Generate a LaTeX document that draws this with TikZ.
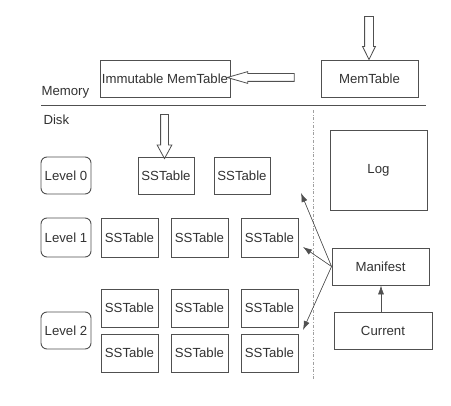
\documentclass[tikz,border=0pt]{standalone}
\usepackage{fontspec}
\setmainfont{Liberation Sans}
\usepackage{tikz}
\usetikzlibrary{
  positioning,
  arrows.meta,
  shapes.arrows
}
\definecolor{BoxGray}{RGB}{80,80,80}
\definecolor{TextGray}{RGB}{50,50,50}
\definecolor{SepGray}{RGB}{160,160,160}

\begin{document}
\begin{tikzpicture}[
  x=1pt,y=-1pt,
  font=\fontsize{13.2}{15}\selectfont,text=TextGray,
  tbox/.style={draw=BoxGray,line width=0.9pt,inner sep=0pt,
    minimum height=37pt,align=center},
  sst/.style={tbox,minimum width=57pt,minimum height=38pt},
  lvl/.style={tbox,rounded corners=6pt,minimum width=50pt},
  hollow/.style={single arrow,draw=BoxGray,line width=0.8pt,fill=white,
    inner sep=0pt,anchor=center},
  arr/.style={-{Latex[length=9pt,width=6pt]},line width=0.6pt,draw=BoxGray,fill=black},
]
\useasboundingbox (0,0) rectangle (451,406);

% —— memory ——
\node[tbox,minimum width=97pt] (mem) at (369.5,78.5) {MemTable};
\node[tbox,minimum width=130pt] (imm) at (165,78.5) {Immutable MemTable};
\node[anchor=west] (memory) at (38,92) {Memory};
\node[hollow,rotate=-90,minimum height=43pt,minimum width=12pt,
  single arrow head extend=2pt,single arrow tip angle=53,inner ysep=4pt]
  (inarr) at (369,33.5) {};
\node[hollow,rotate=180,minimum height=67pt,minimum width=11pt,
  single arrow head extend=2pt,single arrow tip angle=32,inner ysep=3.5pt]
  (freeze) at (267.5,77.5) {};

% —— memory / disk ——
\coordinate (sepL) at (41,105);
\coordinate (sepR) at (426,105);
\draw[BoxGray,line width=0.8pt] (sepL)--(sepR);
\node[anchor=west] (disk) at (40,120) {Disk};
\coordinate (colT) at (313,110);
\coordinate (colB) at (313,379);
\draw[SepGray,dash dot,line width=0.7pt] (colT)--(colB);
\node[hollow,rotate=-90,minimum height=44pt,minimum width=14pt,
  single arrow head extend=3.5pt,single arrow tip angle=57,inner ysep=3.5pt]
  (dump) at (164.5,133) {};

% —— levels ——
\node[lvl] (L0) at (66,175.5) {Level 0};
\node[lvl,minimum height=39pt] (L1) at (66,237.5) {Level 1};
\node[lvl] (L2) at (66,330.5) {Level 2};
\node[sst,minimum width=56pt,minimum height=37pt] (s00) at (166,175.5) {SSTable};
\node[sst,minimum width=56pt,minimum height=37pt] (s01) at (242,175.5) {SSTable};
\foreach \n/\x in {0/129.5,1/199.5,2/269.5}{
  \node[sst,minimum height=39pt] (s1\n) at (\x,237.5) {SSTable};
  \node[sst] (s2\n) at (\x,308) {SSTable};
  \node[sst] (s3\n) at (\x,353) {SSTable};
}

% —— right side ——
\node[tbox,minimum width=97pt,minimum height=80pt] (log) at (378.5,170.5) {Log};
\node[tbox,minimum width=97pt] (manifest) at (380.5,266.5) {Manifest};
\node[tbox,minimum width=98pt] (current) at (383,330.5) {Current};
\draw[arr] (current.north -| 381,0)--(manifest.south -| 381,0);

\coordinate (toL0) at (301,193);
\coordinate (toL1) at (303,247);
\coordinate (toL2) at (303,330);
\foreach \t in {toL0,toL1,toL2}
  \draw[arr] (manifest.west)--(\t);
\end{tikzpicture}
\end{document}
